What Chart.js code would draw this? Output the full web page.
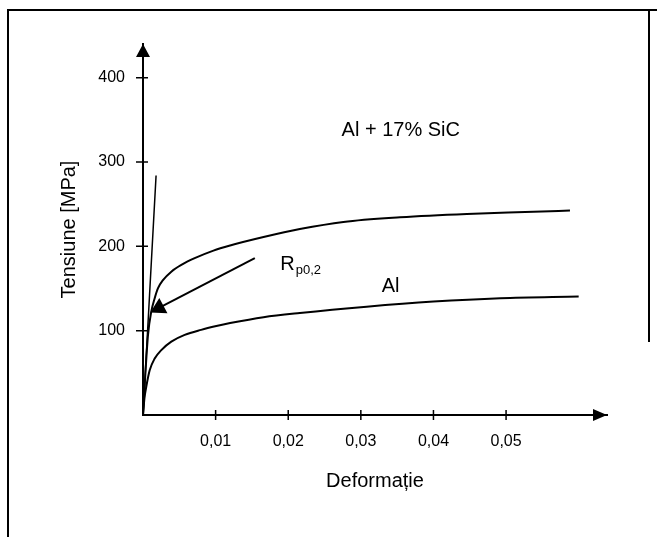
<!DOCTYPE html>
<html>
<head>
<meta charset="utf-8">
<script src="https://cdn.jsdelivr.net/npm/chart.js@4"></script>
<style>
  html, body { margin: 0; padding: 0; background: #fff; }
</style>
</head>
<body>
<canvas id="chart" width="657" height="537"></canvas>
<script>
// tick values
const xTicks = [0.01, 0.02, 0.03, 0.04, 0.05];
const yTicks = [100, 200, 300, 400];

// Al + 17% SiC curve
const sicStrain = [0, 0.0003, 0.00069, 0.00114, 0.00161, 0.00207, 0.00275, 0.0039, 0.00528, 0.00712, 0.0097, 0.012, 0.0166, 0.0216, 0.0276, 0.0354, 0.0446, 0.0538, 0.0588];
const sicStress = [0, 45, 95, 122.6, 138.5, 150.4, 160, 170, 178, 186, 195, 201, 211, 220.5, 229, 234.5, 238.5, 241, 242.5];

// Al curve
const alStrain = [0, 0.0002, 0.00046, 0.00092, 0.00161, 0.00252, 0.0039, 0.00574, 0.008, 0.0101, 0.012, 0.0166, 0.0216, 0.0308, 0.04, 0.0492, 0.06];
const alStress = [0, 20, 34, 53, 67, 77, 87, 95, 101, 105.5, 109, 116, 121, 128.5, 134.5, 138.5, 140.5];

// elastic line and Rp0,2 pointer
const elasticStrain = [0, 0.0018];
const elasticStress = [0, 284];
const arrowStrain = [0.0154, 0.0022];
const arrowStress = [186, 127];

// text labels (data coordinates)
const notes = [
    { text: 'Al + 17% SiC', x: 0.0355, y: 331 },
    { text: 'Al', x: 0.0341, y: 146 }
];
const rpNote = { x: 0.0189, y: 171.5 };

const FONT = '"Liberation Sans", Arial, sans-serif';
const toPoints = (xs, ys) => xs.map((x, i) => ({ x: x, y: ys[i] }));

const decor = {
    id: 'decor',
    beforeDraw(chart) {
        const ctx = chart.ctx;
        ctx.save();
        ctx.fillStyle = '#fff';
        ctx.fillRect(0, 0, chart.width, chart.height);
        ctx.strokeStyle = '#000';
        ctx.lineWidth = 2;
        ctx.beginPath();
        ctx.moveTo(8, 537);
        ctx.lineTo(8, 10);
        ctx.lineTo(657, 10);
        ctx.moveTo(649, 10);
        ctx.lineTo(649, 342);
        ctx.stroke();
        ctx.restore();
    },
    afterDraw(chart) {
        const { ctx, chartArea: a, scales: { x, y } } = chart;
        ctx.save();
        ctx.fillStyle = '#000';
        ctx.strokeStyle = '#000';
        ctx.lineWidth = 1.5;
        ctx.beginPath();
        xTicks.forEach(v => {
            const px = x.getPixelForValue(v);
            ctx.moveTo(px, a.bottom - 5);
            ctx.lineTo(px, a.bottom + 5);
        });
        yTicks.forEach(v => {
            const py = y.getPixelForValue(v);
            ctx.moveTo(a.left - 7, py);
            ctx.lineTo(a.left + 5, py);
        });
        ctx.stroke();

        // axis arrowheads
        ctx.beginPath();
        ctx.moveTo(a.left, a.top);
        ctx.lineTo(a.left - 7, a.top + 13);
        ctx.lineTo(a.left + 7, a.top + 13);
        ctx.closePath();
        ctx.moveTo(a.right, a.bottom);
        ctx.lineTo(a.right - 14, a.bottom - 6);
        ctx.lineTo(a.right - 14, a.bottom + 6);
        ctx.closePath();
        ctx.fill();

        ctx.font = '20px ' + FONT;
        ctx.textBaseline = 'alphabetic';
        ctx.textAlign = 'center';
        notes.forEach(n => ctx.fillText(n.text, x.getPixelForValue(n.x), y.getPixelForValue(n.y)));

        ctx.textAlign = 'left';
        const rx = x.getPixelForValue(rpNote.x);
        const ry = y.getPixelForValue(rpNote.y);
        ctx.fillText('R', rx, ry);
        const rw = ctx.measureText('R').width;
        ctx.font = '13px ' + FONT;
        ctx.fillText('p0,2', rx + rw + 1, ry + 4);
        ctx.restore();
    }
};

const lineSet = (xs, ys, width) => ({
    data: toPoints(xs, ys),
    showLine: true,
    borderColor: '#000',
    backgroundColor: '#000',
    borderWidth: width,
    pointRadius: 0,
    tension: 0.4,
    cubicInterpolationMode: 'monotone',
    clip: false
});

const ctx = document.getElementById('chart').getContext('2d');
new Chart(ctx, {
    type: 'scatter',
    data: {
        datasets: [
            lineSet(sicStrain, sicStress, 2),
            lineSet(alStrain, alStress, 2),
            lineSet(elasticStrain, elasticStress, 1.5),
            Object.assign(lineSet(arrowStrain, arrowStress, 2), {
                tension: 0,
                pointRadius: [0, 8],
                pointStyle: 'triangle',
                pointRotation: 242
            })
        ]
    },
    options: {
        responsive: false,
        animation: false,
        events: [],
        layout: { padding: { left: 0, top: 44, right: 50, bottom: 0 } },
        plugins: {
            legend: { display: false },
            tooltip: { enabled: false }
        },
        scales: {
            x: {
                type: 'linear',
                min: 0,
                max: 0.0639,
                afterBuildTicks: s => { s.ticks = xTicks.map(v => ({ value: v })); },
                afterFit: s => { s.height = 122; },
                grid: { display: false, drawTicks: false },
                border: { display: true, color: '#000', width: 2 },
                ticks: {
                    color: '#000',
                    padding: 17,
                    font: { family: FONT, size: 16 },
                    callback: v => v.toFixed(2).replace('.', ',')
                },
                title: {
                    display: true,
                    text: 'Deformație',
                    color: '#000',
                    font: { family: FONT, size: 20 },
                    padding: { top: 0, bottom: 44 }
                }
            },
            y: {
                type: 'linear',
                min: 0,
                max: 440,
                afterBuildTicks: s => { s.ticks = yTicks.map(v => ({ value: v })); },
                afterFit: s => { s.width = 143; },
                grid: { display: false, drawTicks: false },
                border: { display: true, color: '#000', width: 2 },
                ticks: {
                    color: '#000',
                    padding: 18,
                    font: { family: FONT, size: 16 },
                    callback: v => String(v)
                },
                title: {
                    display: true,
                    text: 'Tensiune [MPa]',
                    color: '#000',
                    font: { family: FONT, size: 20 },
                    padding: { top: 57, bottom: 0 }
                }
            }
        }
    },
    plugins: [decor]
});
</script>
</body>
</html>
